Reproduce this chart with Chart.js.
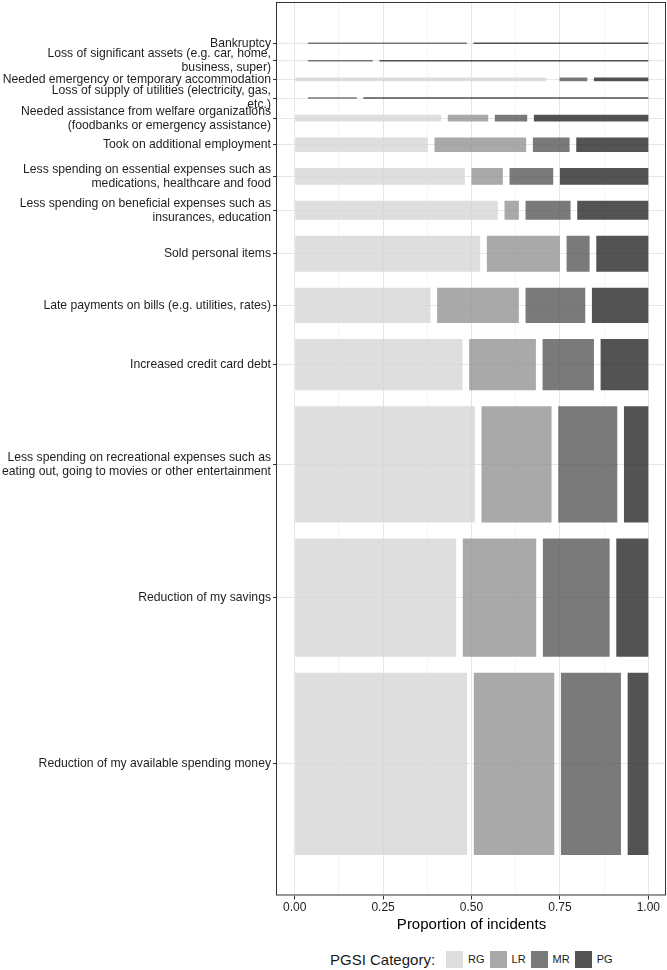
<!DOCTYPE html>
<html>
<head>
<meta charset="utf-8">
<script src="https://cdn.jsdelivr.net/npm/chart.js@4.4.1/dist/chart.umd.min.js"></script>
<style>
body{margin:0;background:#fff;font-family:"Liberation Sans",Arial,sans-serif;}
#contenedor{position:relative;width:667px;height:970px;}
#leyenda{position:absolute;left:330px;top:944px;height:30px;display:flex;align-items:center;color:#1a1a1a;}
#leyenda .titulo{font-size:15px;margin-right:11px;}
#leyenda .caja{width:17px;height:17px;}
#leyenda .texto{font-size:11px;margin:0 5px;}
</style>
</head>
<body>
<div id="contenedor">
<canvas id="mosaico" width="667" height="940"></canvas>
<div id="leyenda"><span class="titulo">PGSI Category:</span></div>
</div>
<script>
// Datos
const etiquetas = [
    "Bankruptcy",
    ["Loss of significant assets (e.g. car, home,", "business, super)"],
    "Needed emergency or temporary accommodation",
    ["Loss of supply of utilities (electricity, gas,", "etc.)"],
    ["Needed assistance from welfare organizations", "(foodbanks or emergency assistance)"],
    "Took on additional employment",
    ["Less spending on essential expenses such as", "medications, healthcare and food"],
    ["Less spending on beneficial expenses such as", "insurances, education"],
    "Sold personal items",
    "Late payments on bills (e.g. utilities, rates)",
    "Increased credit card debt",
    ["Less spending on recreational expenses such as", "eating out, going to movies or other entertainment"],
    "Reduction of my savings",
    "Reduction of my available spending money"
];
// numero de incidentes por fila (alto de cada barra)
const incidentes = [25, 25, 64, 27, 117, 249, 290, 330, 626, 609, 887, 2017, 2052, 3160];
// proporcion de cada categoria PGSI por fila
const rg = [0, 0, 0.754, 0, 0.439, 0.399, 0.510, 0.609, 0.556, 0.407, 0.503, 0.540, 0.484, 0.517];
const lr = [0, 0, 0, 0, 0.121, 0.275, 0.094, 0.043, 0.219, 0.245, 0.200, 0.210, 0.220, 0.241];
const mr = [0.476, 0.194, 0.083, 0.146, 0.097, 0.110, 0.131, 0.135, 0.069, 0.179, 0.154, 0.177, 0.200, 0.180];
const pg = [0.524, 0.806, 0.163, 0.854, 0.343, 0.216, 0.265, 0.213, 0.156, 0.169, 0.143, 0.073, 0.096, 0.062];
const categorias = ["RG", "LR", "MR", "PG"];
const marcasX = [0, 0.125, 0.25, 0.375, 0.5, 0.625, 0.75, 0.875, 1];

const colores = ["rgba(214,214,214,0.8)", "rgba(148,148,148,0.8)", "rgba(89,89,89,0.8)", "rgba(40,40,40,0.8)"];
const hueco = 20 / 1060;      // espacio entre segmentos (eje x)
const separacion = 278;       // espacio entre filas (eje y)
const escala = 1 - 3 * hueco;

// Funciones
function segmentos(fila) {
    const props = [rg[fila], lr[fila], mr[fila], pg[fila]];
    let inicio = 0;
    return props.map(p => {
        const seg = [inicio, inicio + p * escala];
        inicio += p * escala + hueco;
        return seg;
    });
}

const centros = [];
let acumulado = 0;
incidentes.forEach(n => {
    centros.push(acumulado + n / 2);
    acumulado += n + separacion;
});
const total = acumulado - separacion;

function esMayor(v) {
    return Math.abs(v * 4 - Math.round(v * 4)) < 1e-6;
}

const grosor = {
    id: 'grosor',
    afterLayout(chart) {
        const y = chart.scales.y;
        chart.data.datasets.forEach((ds, i) => {
            ds.maxBarThickness = Math.abs(y.getPixelForValue(incidentes[i]) - y.getPixelForValue(0));
        });
    }
};

const marco = {
    id: 'marco',
    afterDatasetsDraw(chart) {
        const {ctx, chartArea: a} = chart;
        ctx.save();
        ctx.strokeStyle = '#333';
        ctx.lineWidth = 1;
        ctx.strokeRect(a.left - 0.5, a.top + 0.5, a.right - a.left, a.bottom - a.top - 1);
        ctx.restore();
    }
};

Chart.defaults.font.family = '"Liberation Sans", Arial, sans-serif';

const datos = etiquetas.map((et, i) => ({
    label: Array.isArray(et) ? et.join(' ') : et,
    data: segmentos(i).map(s => ({x: s, y: centros[i]})),
    backgroundColor: colores,
    borderWidth: 0,
    grouped: false,
    barPercentage: 30,
    categoryPercentage: 1
}));

const grafico = document.getElementById('mosaico');
const myChart = new Chart(grafico, {
    type: 'bar',
    data: {datasets: datos},
    plugins: [grosor, marco],
    options: {
        indexAxis: 'y',
        responsive: false,
        animation: false,
        devicePixelRatio: 1,
        layout: {padding: {top: 2, right: 1, bottom: 0, left: 0}},
        plugins: {legend: {display: false}, tooltip: {enabled: false}},
        scales: {
            x: {
                type: 'linear',
                min: -0.05,
                max: 1.05,
                afterBuildTicks: s => { s.ticks = marcasX.map(v => ({value: v})); },
                afterFit: s => { s.height = 44.5; s.paddingLeft = 0; s.paddingRight = 0; },
                border: {display: false},
                grid: {
                    color: c => esMayor(c.tick.value) ? '#e6e6e6' : '#f0f0f0',
                    lineWidth: c => esMayor(c.tick.value) ? 1 : 0.7,
                    tickColor: c => esMayor(c.tick.value) ? '#333' : 'rgba(0,0,0,0)',
                    tickLength: 4
                },
                ticks: {
                    autoSkip: false,
                    maxRotation: 0,
                    padding: 1,
                    color: '#222',
                    font: {size: 12},
                    callback: v => esMayor(v) ? v.toFixed(2) : ''
                },
                title: {
                    display: true,
                    text: 'Proportion of incidents',
                    color: '#000',
                    font: {size: 15},
                    padding: {top: 0, bottom: 6}
                }
            },
            y: {
                type: 'linear',
                reverse: true,
                offset: false,
                min: -0.05 * total,
                max: 1.05 * total,
                afterBuildTicks: s => { s.ticks = centros.map(v => ({value: v})); },
                afterFit: s => { s.width = 277; s.paddingTop = 0; s.paddingBottom = 0; },
                border: {display: false},
                grid: {offset: false, color: '#e6e6e6', tickColor: '#333', tickLength: 4},
                ticks: {
                    autoSkip: false,
                    padding: 2,
                    color: '#1e1e1e',
                    font: {size: 12.2, lineHeight: 1.15},
                    callback: (v, i) => etiquetas[i]
                }
            }
        }
    }
});

// Leyenda
const $leyenda = document.getElementById('leyenda');
categorias.forEach((cat, j) => {
    const caja = document.createElement('span');
    caja.className = 'caja';
    caja.style.background = colores[j];
    const texto = document.createElement('span');
    texto.className = 'texto';
    texto.textContent = cat;
    $leyenda.appendChild(caja);
    $leyenda.appendChild(texto);
});
</script>
</body>
</html>
